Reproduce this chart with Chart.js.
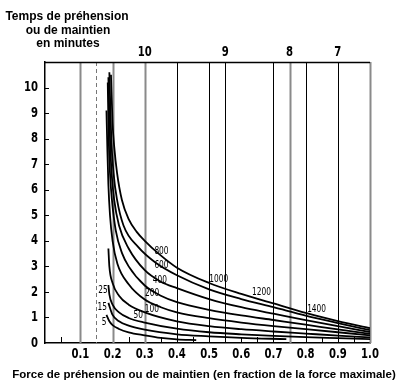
<!DOCTYPE html>
<html>
<head>
<meta charset="utf-8">
<script src="https://cdn.jsdelivr.net/npm/chart.js@4/dist/chart.umd.min.js"></script>
<style>
  html, body { margin: 0; padding: 0; background: #fff; }
</style>
</head>
<body>
<canvas id="chart" width="415" height="391"></canvas>
<script>
// curve data: [force fraction, minutes]
const curve5 = [[0.181,1.1],[0.19,0.85],[0.2,0.7],[0.22,0.55],[0.25,0.42],[0.3,0.3],[0.35,0.2],[0.4,0.14],[0.46,0.11]];
const curve15 = [[0.187,1.57],[0.2,1.1],[0.22,0.85],[0.25,0.68],[0.3,0.52],[0.4,0.34],[0.5,0.26],[0.6,0.2],[0.74,0.15]];
const curve25 = [[0.187,2.27],[0.19,1.9],[0.2,1.5],[0.22,1.2],[0.25,0.98],[0.3,0.8],[0.4,0.56],[0.5,0.42],[0.6,0.34],[0.7,0.28],[0.8,0.23],[0.9,0.19],[1.0,0.15]];
const curve50 = [[0.187,3.7],[0.19,3.0],[0.2,2.35],[0.22,1.85],[0.25,1.5],[0.3,1.2],[0.4,0.85],[0.5,0.66],[0.6,0.54],[0.7,0.45],[0.8,0.37],[0.9,0.29],[1.0,0.22]];
const curve100 = [[0.181,9.1],[0.184,7.5],[0.187,6.2],[0.192,5.0],[0.2,4.0],[0.215,3.1],[0.25,2.3],[0.3,1.7],[0.35,1.4],[0.4,1.2],[0.5,0.97],[0.6,0.8],[0.7,0.66],[0.8,0.54],[0.9,0.42],[1.0,0.3]];
const curve200 = [[0.185,10.2],[0.188,8],[0.192,6.65],[0.198,5.6],[0.21,4.4],[0.23,3.5],[0.25,3.0],[0.3,2.25],[0.35,1.85],[0.4,1.6],[0.5,1.3],[0.6,1.08],[0.7,0.9],[0.8,0.72],[0.9,0.53],[1.0,0.36]];
const curve400 = [[0.187,10.4],[0.192,8],[0.197,6.65],[0.205,5.6],[0.22,4.6],[0.25,3.7],[0.3,2.85],[0.35,2.4],[0.4,2.15],[0.5,1.72],[0.6,1.4],[0.7,1.15],[0.8,0.9],[0.9,0.66],[1.0,0.43]];
const curve600 = [[0.19,10.6],[0.196,8],[0.203,6.65],[0.214,5.6],[0.234,4.6],[0.28,3.75],[0.333,3.15],[0.4,2.65],[0.5,2.1],[0.6,1.72],[0.7,1.4],[0.8,1.07],[0.9,0.78],[1.0,0.5]];
const curve800 = [[0.195,10.5],[0.2,8.6],[0.205,7.7],[0.214,6.65],[0.229,5.6],[0.25,4.85],[0.275,4.35],[0.3,4.0],[0.343,3.5],[0.4,2.95],[0.5,2.35],[0.6,1.92],[0.7,1.55],[0.8,1.18],[0.9,0.86],[1.0,0.58]];
const curves = [curve5, curve15, curve25, curve50, curve100, curve200, curve400, curve600, curve800];

// curve labels (text, and anchor in data units)
const curveLabels = ['5','15','25','50','100','200','400','600','800','1000','1200','1400'];
const labelForce = [0.174,0.168,0.17,0.28,0.322,0.323,0.347,0.352,0.352,0.53,0.663,0.834];
const labelTime = [0.8,1.41,2.08,1.08,1.33,1.94,2.47,3.04,3.59,2.5,1.98,1.31];

// axes
const xTickValues = [0.1,0.2,0.3,0.4,0.5,0.6,0.7,0.8,0.9,1.0];
const yTickValues = [0,1,2,3,4,5,6,7,8,9,10];
const refLines = [0.1,0.15,0.2,0.3,0.4,0.5,0.55,0.7,0.75,0.8,0.9,1.0];
const greyLines = [0.1,0.2,0.3,0.75,1.0];
const minorTicks = [0.04,0.25,0.35,0.45,0.6,0.65,0.85,0.95];
const topLabels = ['10','9','8','7'];
const topLabelAt = [0.3,0.55,0.75,0.9];

const narrow = "'Liberation Sans Narrow', 'DejaVu Sans Condensed', sans-serif";

function narrowText(ctx, text, x, y, size, weight, squeeze, align) {
    ctx.save();
    ctx.translate(x, y);
    ctx.scale(squeeze, 1);
    ctx.font = weight + ' ' + size + 'px ' + narrow;
    ctx.textAlign = align || 'center';
    ctx.textBaseline = 'middle';
    ctx.fillText(text, 0, 0);
    ctx.restore();
}

const decorations = {
    id: 'decorations',
    beforeDatasetsDraw(chart) {
        const { ctx, chartArea: a, scales: { x, y } } = chart;
        ctx.save();
        refLines.forEach(v => {
            const px = Math.round(x.getPixelForValue(v)) + 0.5;
            ctx.beginPath();
            if (v === 0.15) {
                ctx.setLineDash([4, 3]);
                ctx.strokeStyle = '#777';
                ctx.lineWidth = 1;
            } else if (greyLines.includes(v)) {
                ctx.setLineDash([]);
                ctx.strokeStyle = '#8a8a8a';
                ctx.lineWidth = 2;
            } else {
                ctx.setLineDash([]);
                ctx.strokeStyle = '#000';
                ctx.lineWidth = 1;
            }
            ctx.moveTo(px, a.top);
            ctx.lineTo(px, a.bottom);
            ctx.stroke();
        });
        ctx.setLineDash([]);
        ctx.strokeStyle = '#000';
        ctx.lineWidth = 1.5;
        // top border
        ctx.beginPath();
        ctx.moveTo(a.left, a.top + 0.5);
        ctx.lineTo(a.right, a.top + 0.5);
        ctx.stroke();
        // small inward ticks
        ctx.lineWidth = 1;
        minorTicks.forEach(v => {
            const px = Math.round(x.getPixelForValue(v)) + 0.5;
            ctx.beginPath();
            ctx.moveTo(px, a.bottom);
            ctx.lineTo(px, a.bottom - 6);
            ctx.stroke();
        });
        yTickValues.forEach(v => {
            if (v === 0) return;
            const py = Math.round(y.getPixelForValue(v)) + 0.5;
            ctx.beginPath();
            ctx.moveTo(a.left, py);
            ctx.lineTo(a.left + 4, py);
            ctx.stroke();
        });
        ctx.restore();
    },
    afterDraw(chart) {
        const { ctx, chartArea: a, scales: { x, y } } = chart;
        ctx.save();
        ctx.fillStyle = '#000';
        // tick labels, condensed like the original
        xTickValues.forEach(v => {
            narrowText(ctx, v.toFixed(1), x.getPixelForValue(v), a.bottom + 11, 14, 'bold', 0.8);
        });
        yTickValues.forEach(v => {
            narrowText(ctx, String(v), a.left - 7, y.getPixelForValue(v), 14, 'bold', 0.8, 'right');
        });
        curveLabels.forEach((t, i) => {
            narrowText(ctx, t, x.getPixelForValue(labelForce[i]), y.getPixelForValue(labelTime[i]), 11, 'normal', 0.75);
        });
        topLabels.forEach((t, i) => {
            narrowText(ctx, t, x.getPixelForValue(topLabelAt[i]), 52, 14, 'bold', 0.8);
        });
        ctx.font = 'bold 12px "Liberation Sans", Arial, sans-serif';
        ctx.textAlign = 'center';
        ctx.textBaseline = 'middle';
        ctx.fillText('Temps de préhension', 67, 17);
        ctx.fillText('ou de maintien', 68, 31);
        ctx.fillText('en minutes', 68, 44);
        ctx.font = 'bold 11.5px "Liberation Sans", Arial, sans-serif';
        ctx.fillText('Force de préhension ou de maintien (en fraction de la force maximale)', 204, 375);
        ctx.restore();
    }
};

const datasets = curves.map((pts, i) => ({
    label: curveLabels[i],
    data: pts.map(p => ({ x: p[0], y: p[1] })),
    borderColor: '#000',
    borderWidth: 1.8,
    pointRadius: 0,
    fill: false,
    cubicInterpolationMode: 'monotone'
}));

new Chart(document.getElementById('chart'), {
    type: 'line',
    data: { datasets },
    options: {
        responsive: false,
        animation: false,
        layout: { padding: { top: 62, right: 45, left: 0, bottom: 0 } },
        plugins: { legend: { display: false }, tooltip: { enabled: false } },
        scales: {
            x: {
                type: 'linear',
                min: -0.01,
                max: 1.0,
                afterBuildTicks: s => { s.ticks = xTickValues.map(v => ({ value: v })); },
                afterFit: s => { s.height = 48; },
                grid: { display: false, drawTicks: false },
                border: { display: true, color: '#000', width: 1.5 },
                ticks: { display: false }
            },
            y: {
                type: 'linear',
                min: 0,
                max: 11,
                afterBuildTicks: s => { s.ticks = yTickValues.map(v => ({ value: v })); },
                afterFit: s => { s.width = 45; },
                grid: { display: false, drawTicks: false },
                border: { display: true, color: '#000', width: 1.5 },
                ticks: { display: false }
            }
        }
    },
    plugins: [decorations]
});
</script>
</body>
</html>
